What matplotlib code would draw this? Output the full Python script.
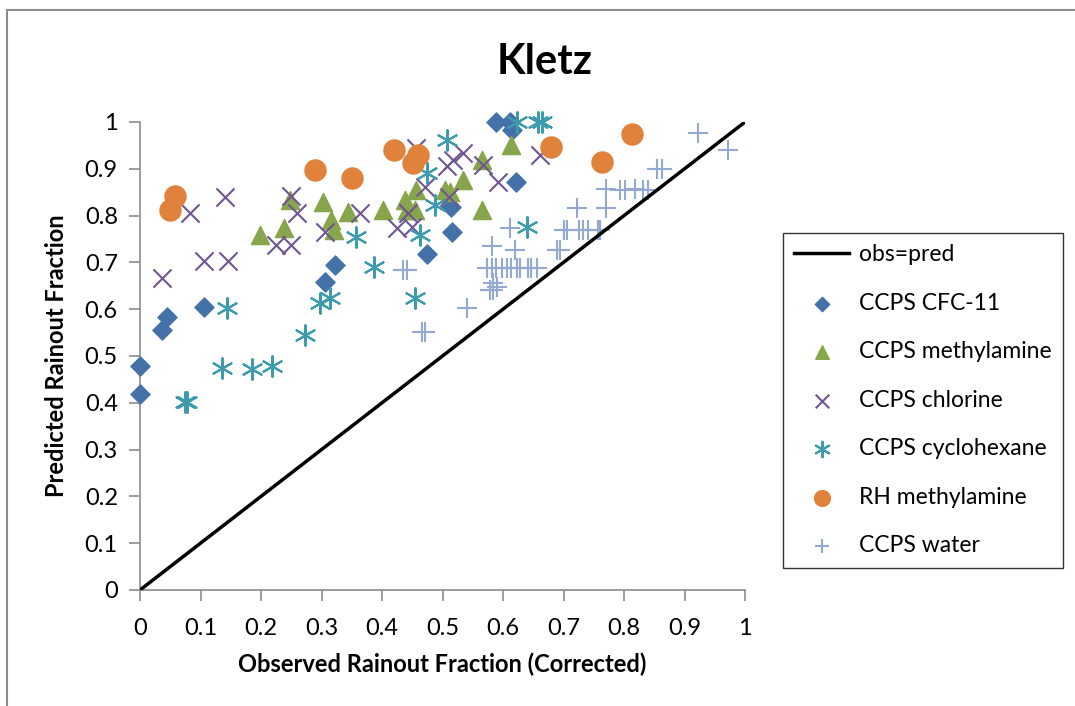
import numpy as np
import matplotlib
matplotlib.use('Agg')
import matplotlib.pyplot as plt
from matplotlib.lines import Line2D

# --- DATA ---
cfc11_x = [0.0, 0.0, 0.036, 0.045, 0.106, 0.306, 0.322, 0.475, 0.514, 0.515,
           0.589, 0.612, 0.615, 0.622]
cfc11_y = [0.418, 0.479, 0.556, 0.584, 0.605, 0.659, 0.694, 0.718, 0.819, 0.766,
           1.0, 1.0, 0.983, 0.872]

methyl_x = [0.198, 0.238, 0.248, 0.303, 0.320, 0.316, 0.344, 0.402, 0.438, 0.441,
            0.455, 0.457, 0.504, 0.512, 0.534, 0.565, 0.565, 0.614]
methyl_y = [0.759, 0.773, 0.833, 0.830, 0.769, 0.790, 0.808, 0.812, 0.833, 0.812,
            0.812, 0.855, 0.855, 0.851, 0.876, 0.812, 0.919, 0.951]

chlor_x = [0.037, 0.083, 0.105, 0.145, 0.140, 0.249, 0.259, 0.225, 0.250, 0.306,
           0.364, 0.424, 0.443, 0.449, 0.456, 0.471, 0.507, 0.518, 0.510, 0.534,
           0.567, 0.592, 0.661]
chlor_y = [0.666, 0.805, 0.702, 0.702, 0.840, 0.842, 0.805, 0.737, 0.737, 0.766,
           0.805, 0.773, 0.805, 0.776, 0.944, 0.862, 0.905, 0.919, 0.840, 0.933,
           0.908, 0.872, 0.929]

cyclo_x = [0.074, 0.078, 0.135, 0.143, 0.185, 0.218, 0.273, 0.298, 0.314, 0.357,
           0.386, 0.455, 0.463, 0.474, 0.488, 0.507, 0.623, 0.639, 0.658, 0.664]
cyclo_y = [0.402, 0.402, 0.474, 0.602, 0.472, 0.479, 0.545, 0.613, 0.623, 0.755,
           0.691, 0.623, 0.759, 0.890, 0.823, 0.962, 1.0, 0.776, 1.0, 1.0]

rh_x = [0.049, 0.058, 0.289, 0.350, 0.420, 0.452, 0.460, 0.680, 0.763, 0.813]
rh_y = [0.813, 0.842, 0.897, 0.880, 0.940, 0.912, 0.929, 0.947, 0.915, 0.974]

water_x = [0.435, 0.441, 0.466, 0.471, 0.541, 0.579, 0.584, 0.584, 0.590,
           0.573, 0.581, 0.589, 0.598, 0.606, 0.614, 0.623, 0.628, 0.642, 0.647, 0.656,
           0.581, 0.620, 0.612, 0.689, 0.694,
           0.700, 0.705, 0.725, 0.733, 0.741, 0.757, 0.760, 0.722, 0.771,
           0.771, 0.793, 0.802, 0.818, 0.832, 0.840, 0.854, 0.862, 0.923, 0.972]
water_y = [0.684, 0.684, 0.552, 0.552, 0.602, 0.641, 0.641, 0.655, 0.648,
           0.687, 0.687, 0.687, 0.687, 0.687, 0.687, 0.687, 0.687, 0.687, 0.687, 0.687,
           0.734, 0.726, 0.773, 0.726, 0.726,
           0.769, 0.769, 0.769, 0.769, 0.769, 0.769, 0.769, 0.816, 0.816,
           0.856, 0.855, 0.855, 0.856, 0.855, 0.855, 0.899, 0.899, 0.976, 0.940]

ticks = [0, 0.1, 0.2, 0.3, 0.4, 0.5, 0.6, 0.7, 0.8, 0.9, 1]
tick_labels = ['0', '0.1', '0.2', '0.3', '0.4', '0.5', '0.6', '0.7', '0.8', '0.9', '1']

plt.rcParams['font.family'] = ['Lato', 'DejaVu Sans']

fig = plt.figure(figsize=(10.75, 7.06), dpi=100)
ax = fig.add_axes([140 / 1075, 1 - 590 / 706, 605 / 1075, 468 / 706])

# outer chart border (only top and left visible in the reference)
fig.add_artist(Line2D([7 / 1075, 7 / 1075], [0, 1 - 10 / 706], transform=fig.transFigure,
                      color='#8c8c8c', lw=1.5))
fig.add_artist(Line2D([7 / 1075, 1], [1 - 10 / 706, 1 - 10 / 706], transform=fig.transFigure,
                      color='#8c8c8c', lw=1.5))

ax.plot([0, 1], [0, 1], color='black', lw=2.5, label='obs=pred', zorder=5)
series = [
    (cfc11_x, cfc11_y, dict(marker='D', s=95, color='#4472a8', label='CCPS CFC-11')),
    (methyl_x, methyl_y, dict(marker='^', s=170, color='#87a54a', label='CCPS methylamine')),
    (chlor_x, chlor_y, dict(marker='x', s=170, color='#6f5592', linewidths=1.5,
                            label='CCPS chlorine')),
    (cyclo_x, cyclo_y, dict(marker=(6, 2, 0), s=220, color='#3d9bae', linewidths=1.5,
                            label='CCPS cyclohexane')),
    (rh_x, rh_y, dict(marker='o', s=230, color='#e0823b', label='RH methylamine')),
    (water_x, water_y, dict(marker='+', s=200, color='#93a9d0', linewidths=1.5,
                            label='CCPS water')),
]
for xs, ys, kw in series:
    ax.scatter(xs, ys, zorder=3, clip_on=False, **kw)

ax.set_xlim(0, 1)
ax.set_ylim(0, 1)
ax.set_xticks(ticks)
ax.set_xticklabels(tick_labels)
ax.set_yticks(ticks)
ax.set_yticklabels(tick_labels)
for s in ['top', 'right']:
    ax.spines[s].set_visible(False)
for s in ['left', 'bottom']:
    ax.spines[s].set_color('#8c8c8c')
    ax.spines[s].set_linewidth(1.2)
ax.tick_params(axis='both', colors='#8c8c8c', labelcolor='black', labelsize=17,
               length=8, width=1.2, direction='out')
ax.tick_params(axis='x', pad=12)
ax.tick_params(axis='y', pad=8)

fig.text(545 / 1075, 1 - 62 / 706, 'Kletz', fontsize=30, fontweight='bold',
         ha='center', va='center')
ax.set_xlabel('Observed Rainout Fraction (Corrected)', fontsize=17, fontweight='bold', labelpad=10)
ax.set_ylabel('Predicted Rainout Fraction', fontsize=17, fontweight='bold', labelpad=12)

leg = fig.legend(loc='upper left', bbox_to_anchor=(783 / 1075, 1 - 233 / 706),
                 fontsize=16.5, frameon=True, fancybox=False, edgecolor='black',
                 borderpad=0.5, labelspacing=1.2, handlelength=2.4, handletextpad=0.4,
                 borderaxespad=0, scatterpoints=1, markerscale=0.75)
leg.get_frame().set_linewidth(1.0)

fig.savefig('out.png', dpi=100)
